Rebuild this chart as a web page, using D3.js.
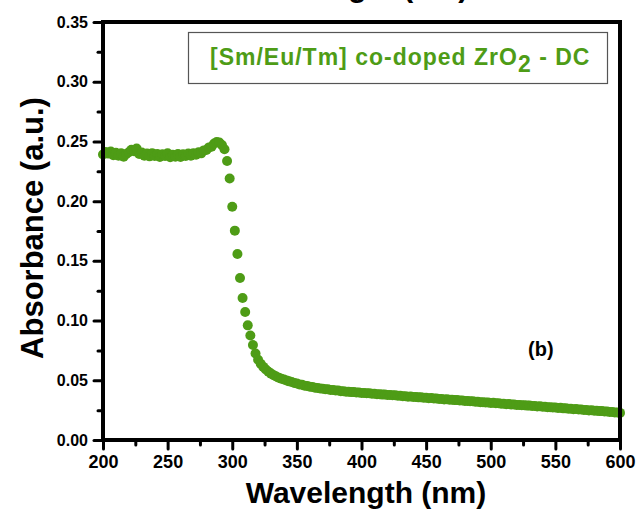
<!DOCTYPE html>
<html>
<head>
<meta charset="utf-8">
<script src="https://cdn.jsdelivr.net/npm/d3@7/dist/d3.min.js"></script>
<style>
  html, body { margin: 0; padding: 0; background: #fff; }
  svg { display: block; }
  text { font-family: "Liberation Sans", Arial, sans-serif; font-weight: bold; }
</style>
</head>
<body>
<svg id="chart" width="639" height="513"></svg>
<script>
// UV-Vis absorbance spectrum, sampled every 2 nm
const wavelength = [
  200,202,204,206,208,210,212,214,216,218,
  220,222,224,226,228,230,232,234,236,238,
  240,242,244,246,248,250,252,254,256,258,
  260,262,264,266,268,270,272,274,276,278,
  280,282,284,286,288,290,292,294,296,298,
  300,302,304,306,308,310,312,314,316,318,
  320,322,324,326,328,330,332,334,336,338,
  340,342,344,346,348,350,352,354,356,358,
  360,362,364,366,368,370,372,374,376,378,
  380,382,384,386,388,390,392,394,396,398,
  400,402,404,406,408,410,412,414,416,418,
  420,422,424,426,428,430,432,434,436,438,
  440,442,444,446,448,450,452,454,456,458,
  460,462,464,466,468,470,472,474,476,478,
  480,482,484,486,488,490,492,494,496,498,
  500,502,504,506,508,510,512,514,516,518,
  520,522,524,526,528,530,532,534,536,538,
  540,542,544,546,548,550,552,554,556,558,
  560,562,564,566,568,570,572,574,576,578,
  580,582,584,586,588,590,592,594,596,598,
  600
];
const absorbance = [
  0.2390,0.2412,0.2398,0.2415,0.2385,0.2405,0.2380,0.2400,0.2372,0.2395,
  0.2410,0.2430,0.2418,0.2440,0.2395,0.2408,0.2380,0.2398,0.2375,0.2402,
  0.2378,0.2395,0.2370,0.2392,0.2378,0.2400,0.2368,0.2388,0.2372,0.2394,
  0.2370,0.2392,0.2378,0.2398,0.2380,0.2402,0.2388,0.2410,0.2400,0.2425,
  0.2428,0.2450,0.2455,0.2482,0.2495,0.2490,0.2470,0.2435,0.2336,0.2190,
  0.1953,0.1753,0.1557,0.1356,0.1189,0.1072,0.0960,0.0875,0.0795,0.0725,
  0.0672,0.0638,0.0612,0.0590,0.0572,0.0556,0.0543,0.0532,0.0522,0.0513,
  0.0506,0.0499,0.0491,0.0486,0.0477,0.0473,0.0465,0.0462,0.0455,0.0452,
  0.0446,0.0444,0.0438,0.0436,0.0431,0.0430,0.0425,0.0424,0.0419,0.0418,
  0.0414,0.0414,0.0409,0.0409,0.0405,0.0405,0.0401,0.0401,0.0397,0.0398,
  0.0394,0.0394,0.0391,0.0391,0.0387,0.0387,0.0384,0.0384,0.0380,0.0381,
  0.0377,0.0377,0.0374,0.0374,0.0370,0.0370,0.0367,0.0367,0.0363,0.0364,
  0.0360,0.0360,0.0357,0.0357,0.0354,0.0354,0.0350,0.0351,0.0347,0.0347,
  0.0344,0.0344,0.0340,0.0341,0.0337,0.0337,0.0334,0.0334,0.0330,0.0331,
  0.0327,0.0327,0.0324,0.0324,0.0320,0.0321,0.0317,0.0317,0.0314,0.0314,
  0.0310,0.0311,0.0307,0.0307,0.0304,0.0304,0.0300,0.0301,0.0297,0.0298,
  0.0294,0.0294,0.0291,0.0291,0.0288,0.0288,0.0284,0.0285,0.0281,0.0282,
  0.0278,0.0278,0.0275,0.0275,0.0272,0.0272,0.0268,0.0269,0.0265,0.0265,
  0.0262,0.0262,0.0258,0.0259,0.0255,0.0255,0.0252,0.0252,0.0248,0.0249,
  0.0245,0.0245,0.0242,0.0242,0.0238,0.0239,0.0235,0.0235,0.0231,0.0231,
  0.0227
];

const xMajor = [200,250,300,350,400,450,500,550,600];
const xMinor = [225,275,325,375,425,475,525,575];
const yMajor = [0,0.05,0.10,0.15,0.20,0.25,0.30,0.35];
const yMinor = [0.025,0.075,0.125,0.175,0.225,0.275,0.325];

const seriesLabel = ["[Sm/Eu/Tm] co-doped ZrO", "2", " - DC"];
const panelLabel = "(b)";

const green = "#4e9c16";
const svg = d3.select("#chart");

const x = d3.scaleLinear().domain([200, 600]).range([103, 620]);
const y = d3.scaleLinear().domain([0, 0.35]).range([440, 22]);

// top axis title, mostly cut off by the top edge
svg.append("text")
  .attr("x", 348).attr("y", -3)
  .attr("text-anchor", "middle")
  .attr("font-size", 30)
  .text("Wavelength (nm)");

// data points
svg.append("g")
  .selectAll("circle")
  .data(wavelength.map((w, i) => [w, absorbance[i]]))
  .join("circle")
  .attr("cx", d => x(d[0]))
  .attr("cy", d => y(d[1]))
  .attr("r", 5)
  .attr("fill", green);

// axes
function styleAxis(g, size) {
  g.select(".domain").remove();
  g.selectAll(".tick line")
    .attr("stroke", "#000")
    .attr("stroke-width", 3)
    .attr("stroke-linecap", "round");
  g.selectAll(".tick text")
    .attr("fill", "#000")
    .attr("font-size", size)
    .attr("font-family", "'Liberation Sans', Arial, sans-serif")
    .attr("font-weight", "bold");
}

svg.append("g")
  .attr("transform", "translate(0,440)")
  .call(d3.axisBottom(x).tickValues(xMinor).tickSize(5).tickFormat(""))
  .call(g => styleAxis(g, 18));
svg.append("g")
  .attr("transform", "translate(0,440)")
  .call(d3.axisBottom(x).tickValues(xMajor).tickSize(9).tickPadding(6).tickFormat(d3.format("d")))
  .call(g => styleAxis(g, 18));

svg.append("g")
  .attr("transform", "translate(103,0)")
  .call(d3.axisLeft(y).tickValues(yMinor).tickSize(5).tickFormat(""))
  .call(g => styleAxis(g, 16));
svg.append("g")
  .attr("transform", "translate(103,0)")
  .call(d3.axisLeft(y).tickValues(yMajor).tickSize(9).tickPadding(6).tickFormat(d3.format(".2f")))
  .call(g => styleAxis(g, 16));

// plot frame
svg.append("rect")
  .attr("x", x(200)).attr("y", y(0.35))
  .attr("width", x(600) - x(200)).attr("height", y(0) - y(0.35))
  .attr("fill", "none")
  .attr("stroke", "#000")
  .attr("stroke-width", 4);

// legend box
svg.append("rect")
  .attr("x", 188.5).attr("y", 32.5)
  .attr("width", 419).attr("height", 51)
  .attr("fill", "#fff")
  .attr("stroke", "#555")
  .attr("stroke-width", 1.2);

const leg = svg.append("text")
  .attr("x", 210).attr("y", 65)
  .attr("font-size", 23)
  .attr("letter-spacing", 1)
  .attr("fill", green);
leg.append("tspan").text(seriesLabel[0]);
leg.append("tspan").attr("dy", 7).text(seriesLabel[1]);
leg.append("tspan").attr("dy", -7).text(seriesLabel[2]);

// panel label
svg.append("text")
  .attr("x", 528).attr("y", 356)
  .attr("font-size", 20)
  .attr("fill", "#000")
  .text(panelLabel);

// axis titles
svg.append("text")
  .attr("x", 366).attr("y", 503)
  .attr("text-anchor", "middle")
  .attr("font-size", 30)
  .attr("fill", "#000")
  .text("Wavelength (nm)");

svg.append("text")
  .attr("transform", "translate(43,228) rotate(-90)")
  .attr("text-anchor", "middle")
  .attr("font-size", 31)
  .attr("fill", "#000")
  .text("Absorbance (a.u.)");
</script>
</body>
</html>
